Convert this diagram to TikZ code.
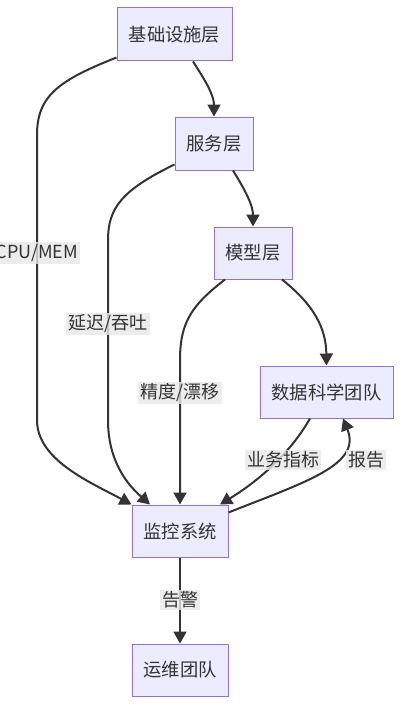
\documentclass[tikz,border=0pt]{standalone}
\usepackage{fontspec}
\setmainfont{Noto Sans CJK SC}
\usetikzlibrary{arrows.meta,calc}
\definecolor{nodefill}{HTML}{ECECFF}
\definecolor{nodeline}{HTML}{9370DB}
\definecolor{ink}{HTML}{333333}
\definecolor{lblbg}{HTML}{E8E8E8}
\tikzset{
  box/.style={draw=nodeline, fill=nodefill, line width=1pt, text=ink, inner sep=0pt,
    font=\fontsize{18.3}{22}\selectfont},
  edge/.style={draw=ink, line width=2pt, -{Triangle[length=12pt,width=13pt]}},
  lbl/.style={fill=lblbg, fill opacity=0.8, text opacity=1, text=ink, inner sep=2pt,
    font=\fontsize{18}{21}\selectfont},
}
\begin{document}
\begin{tikzpicture}[x=1pt,y=-1pt]
\useasboundingbox (0,0) rectangle (409,717);
\fill[white] (0,0) rectangle (409,717);
% nodes
\node[box, minimum width=115pt, minimum height=53pt] (infra) at (174.5,34.5) {基础设施层};
\node[box, minimum width=78pt, minimum height=53pt] (svc) at (214,143.5) {服务层};
\node[box, minimum width=78pt, minimum height=52pt] (model) at (253,253) {模型层};
\node[box, minimum width=133pt, minimum height=52pt] (ds) at (326.5,392) {数据科学团队};
\node[box, minimum width=96pt, minimum height=52pt] (mon) at (180,531) {监控系统};
\node[box, minimum width=96pt, minimum height=52pt] (ops) at (180,670) {运维团队};
% edges
\draw[edge] ([xshift=18.5pt]infra.south) .. controls (205,80) and (214,95) .. (svc.north);
\draw[edge] ([xshift=19pt]svc.south) .. controls (245,190) and (253,205) .. (model.north);
\draw[edge] ([yshift=4pt]infra.south west) .. controls (60,80) and (37,95) .. (37,135)
  -- (37,420) .. controls (37,460) and (90,482) .. (mon.north west);
\draw[edge] ([yshift=6pt]svc.south west) .. controls (122,190) and (108,208) .. (108,240)
  -- (108,420) .. controls (108,462) and (128,485) .. ([xshift=-30pt]mon.north);
\draw[edge] ([xshift=-28pt]model.south) .. controls (192,305) and (180,322) .. (180,360) -- (mon.north);
\draw[edge] ([xshift=29pt]model.south) .. controls (314,305) and (326,328) .. (ds.north);
\draw[edge] ([xshift=-16.5pt]ds.south) .. controls (295,445) and (268,475) .. ([xshift=40pt]mon.north);
\draw[edge] ([yshift=-8pt]mon.north east) .. controls (305,482) and (362,465) .. ([xshift=16.5pt]ds.south);
\draw[edge] (mon.south) -- (ops.north);
% labels
\node[lbl] (l1) at (37,253) {CPU/MEM};
\node[lbl] (l2) at (108,324) {延迟/吞吐};
\node[lbl] (l3) at (180,393) {精度/漂移};
\node[lbl] (l4) at (283,460) {业务指标};
\node[lbl] (l5) at (366,460) {报告};
\node[lbl] (l6) at (180,600) {告警};
\end{tikzpicture}
\end{document}
